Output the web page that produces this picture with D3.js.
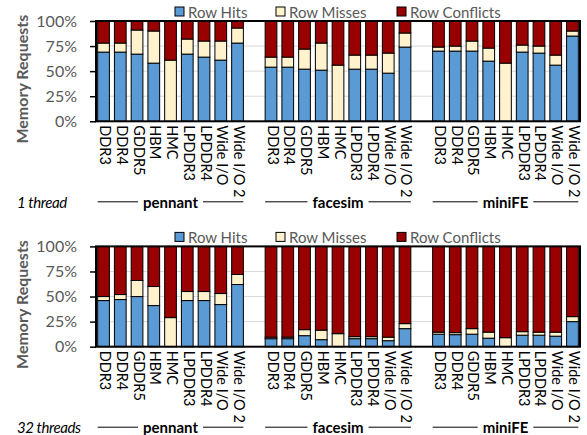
<!DOCTYPE html>
<html>
<head>
<meta charset="utf-8">
<script src="https://cdn.jsdelivr.net/npm/d3@7"></script>
<style>
  body { margin: 0; background: #fff; }
  svg { font-family: Lato, "Open Sans", sans-serif; }
</style>
</head>
<body>
<div id="container"></div>
<script>
/* CONSTANTS AND GLOBALS */
const width = 587,
  height = 435;

const benchmarks = ["pennant", "facesim", "miniFE"];
const memories = ["DDR3", "DDR4", "GDDR5", "HBM", "HMC", "LPDDR3", "LPDDR4", "Wide I/O", "Wide I/O 2"];
const seriesNames = ["Row Hits", "Row Misses", "Row Conflicts"];
const yTicks = [0, 25, 50, 75, 100];

// percent of requests, one row per benchmark
const hits1Thread = [
  [69, 69, 67, 58, 0, 67, 64, 61, 78],
  [54, 54, 52, 51, 0, 52, 52, 48, 74],
  [70, 70, 70, 60, 0, 69, 68, 56, 85]
];
const misses1Thread = [
  [9, 9, 24, 32, 61, 15, 16, 19, 15],
  [10, 10, 20, 27, 56, 14, 14, 20, 14],
  [4, 5, 10, 13, 58, 7, 7, 10, 5]
];
const hits32Threads = [
  [46, 47, 50, 41, 0, 46, 46, 42, 62],
  [8, 8, 11, 7, 0, 8, 8, 6, 18],
  [12.5, 12, 12.5, 8.5, 0, 11.5, 11.5, 10.5, 25]
];
const misses32Threads = [
  [4, 5, 16, 19, 29, 9, 9, 11, 10],
  [1.5, 1.5, 6, 9.5, 13, 2, 2, 3.5, 5],
  [2, 2, 5.5, 6, 9, 3.5, 3, 4, 5]
];

const colors = ["#5b9bd5", "#fff2cc", "#990000"];
const gray = "#595959";

const svg = d3.select("#container")
  .append("svg")
  .attr("width", width)
  .attr("height", height);

/* SCALES */
const keys = [];
benchmarks.forEach((b, i) => {
  memories.forEach(m => keys.push(b + "|" + m));
  if (i < benchmarks.length - 1) keys.push("gap" + i);
});

const xScale = d3.scaleBand()
  .domain(keys)
  .range([96, 580])
  .paddingInner(0.3)
  .paddingOuter(0.1);

function drawPanel(top, hits, misses, threadLabel) {
  const bottom = top + 100.3;
  const yScale = d3.scaleLinear().domain([0, 100]).range([bottom, top]);
  const g = svg.append("g");

  // gridlines
  g.selectAll(".grid")
    .data(yTicks.slice(1, -1))
    .join("line")
    .attr("x1", 96).attr("x2", 580)
    .attr("y1", d => yScale(d)).attr("y2", d => yScale(d))
    .attr("stroke", "#d9d9d9");

  // stacked bars
  const rows = [];
  benchmarks.forEach((b, bi) => {
    memories.forEach((m, mi) => {
      const h = hits[bi][mi], ms = misses[bi][mi];
      const vals = [[0, h], [h, h + ms], [h + ms, 100]];
      vals.forEach((v, si) => rows.push({ key: b + "|" + m, s: si, y0: v[0], y1: v[1] }));
    });
  });
  g.selectAll(".seg")
    .data(rows.filter(d => d.y1 > d.y0))
    .join("rect")
    .attr("x", d => xScale(d.key))
    .attr("width", xScale.bandwidth())
    .attr("y", d => yScale(d.y1))
    .attr("height", d => yScale(d.y0) - yScale(d.y1))
    .attr("fill", d => colors[d.s])
    .attr("stroke", "#000")
    .attr("stroke-width", 1);

  // frame
  g.append("rect")
    .attr("x", 96).attr("y", top)
    .attr("width", 484).attr("height", bottom - top)
    .attr("fill", "none")
    .attr("stroke", "#000")
    .attr("stroke-width", 2);

  // y axis
  const yAxis = g.append("g")
    .attr("transform", "translate(96,0)")
    .call(d3.axisLeft(yScale).tickValues(yTicks).tickSize(6).tickFormat(d => d + "%"));
  yAxis.select(".domain").remove();
  yAxis.selectAll(".tick line").attr("stroke", "#000").attr("stroke-width", 1.5);
  yAxis.selectAll(".tick text")
    .attr("x", -19)
    .attr("fill", gray)
    .style("font-size", "16px")
    .style("font-family", "Lato, sans-serif");

  g.append("text")
    .attr("transform", `translate(21,${(top + bottom) / 2 + 8}) rotate(-90)`)
    .attr("text-anchor", "middle")
    .attr("dominant-baseline", "central")
    .attr("fill", gray)
    .style("font-weight", "bold")
    .style("font-size", "16px")
    .text("Memory Requests");

  // x labels
  benchmarks.forEach(b => {
    memories.forEach(m => {
      const cx = xScale(b + "|" + m) + xScale.bandwidth() / 2 + 2;
      g.append("text")
        .attr("transform", `translate(${cx},${bottom + 4}) rotate(90)`)
        .attr("dominant-baseline", "central")
        .style("font-size", "14.5px")
        .attr("fill", "#000")
        .text(m);
    });

    // group label with lines
    const x0 = xScale(b + "|" + memories[0]);
    const x1 = xScale(b + "|" + memories[memories.length - 1]) + xScale.bandwidth();
    const gy = bottom + 80.5;
    const t = g.append("text")
      .attr("x", (x0 + x1) / 2)
      .attr("y", gy)
      .attr("text-anchor", "middle")
      .attr("dominant-baseline", "central")
      .style("font-weight", "bold")
      .style("font-size", "15px")
      .text(b);
    const tw = t.node().getComputedTextLength();
    g.append("line")
      .attr("x1", x0).attr("x2", (x0 + x1) / 2 - tw / 2 - 5)
      .attr("y1", gy).attr("y2", gy)
      .attr("stroke", "#000");
    g.append("line")
      .attr("x1", (x0 + x1) / 2 + tw / 2 + 5).attr("x2", x1)
      .attr("y1", gy).attr("y2", gy)
      .attr("stroke", "#000");
  });

  g.append("text")
    .attr("x", 17)
    .attr("y", bottom + 80.5)
    .attr("dominant-baseline", "central")
    .style("font-style", "italic")
    .style("font-size", "15px")
    .style("letter-spacing", "-0.4px")
    .text(threadLabel);

  // legend
  const legendX = [175, 276, 397];
  const ly = top - 9.5;
  const lg = g.selectAll(".legend")
    .data(seriesNames)
    .join("g")
    .attr("transform", (d, i) => `translate(${legendX[i]},${ly})`);
  lg.append("rect")
    .attr("x", 0).attr("y", -4.5)
    .attr("width", 9).attr("height", 9)
    .attr("fill", (d, i) => colors[i])
    .attr("stroke", "#000");
  lg.append("text")
    .attr("x", 13)
    .attr("dominant-baseline", "central")
    .attr("fill", gray)
    .style("font-size", "15px")
    .text(d => d);
}

drawPanel(21, hits1Thread, misses1Thread, "1 thread");
drawPanel(246.4, hits32Threads, misses32Threads, "32 threads");
</script>
</body>
</html>
